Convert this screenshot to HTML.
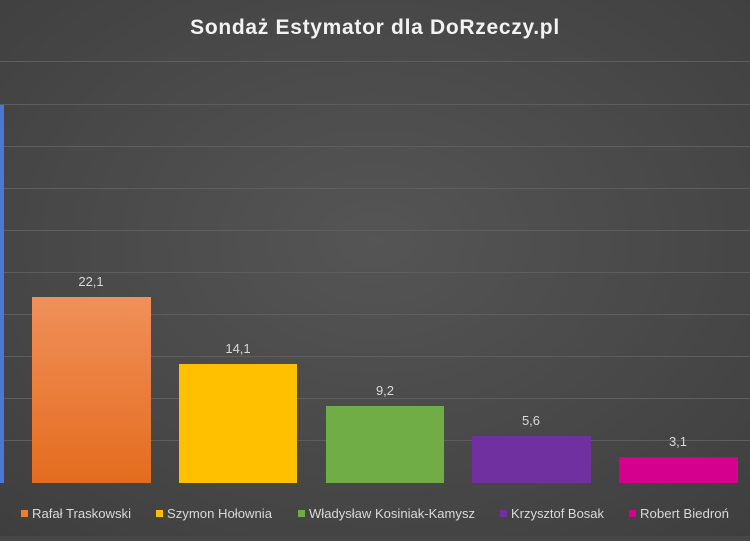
<!DOCTYPE html>
<html><head><meta charset="utf-8"><style>
body{margin:0;width:750px;height:536px;overflow:hidden;background:#474747;font-family:"Liberation Sans",sans-serif}
</style></head><body>
<svg width="750" height="536" xmlns="http://www.w3.org/2000/svg">
<defs>
<radialGradient id="bg" cx="0.5" cy="0.45" r="0.75">
<stop offset="0" stop-color="#555555"/><stop offset="1" stop-color="#3e3e3e"/>
</radialGradient>
<linearGradient id="og" x1="0" y1="0" x2="0" y2="1"><stop offset="0" stop-color="#f0905a"/><stop offset="1" stop-color="#e46c1e"/></linearGradient>
</defs>
<rect width="750" height="536" fill="url(#bg)"/>
<text x="375" y="34" text-anchor="middle" font-size="21" font-weight="bold" fill="#f2f2f2" letter-spacing="0.7">Sondaż Estymator dla DoRzeczy.pl</text>
<g stroke="#5e5e5e" stroke-width="1">
<line x1="0" x2="750" y1="61.5" y2="61.5"/><line x1="0" x2="750" y1="104.5" y2="104.5"/>
<line x1="0" x2="750" y1="146.5" y2="146.5"/><line x1="0" x2="750" y1="188.5" y2="188.5"/>
<line x1="0" x2="750" y1="230.5" y2="230.5"/><line x1="0" x2="750" y1="272.5" y2="272.5"/>
<line x1="0" x2="750" y1="314.5" y2="314.5"/><line x1="0" x2="750" y1="356.5" y2="356.5"/>
<line x1="0" x2="750" y1="398.5" y2="398.5"/><line x1="0" x2="750" y1="440.5" y2="440.5"/>
</g>
<rect x="0" y="105" width="4" height="378" fill="#4a78d4"/>
<rect x="32" y="297" width="119" height="186" fill="url(#og)"/>
<rect x="179" y="364" width="118" height="119" fill="#ffc000"/>
<rect x="326" y="406" width="118" height="77" fill="#70ad47"/>
<rect x="472" y="436" width="119" height="47" fill="#7030a0"/>
<rect x="619" y="457" width="119" height="26" fill="#d6008f"/>
<g font-size="13" fill="#d9d9d9" text-anchor="middle">
<text x="91" y="286">22,1</text><text x="238" y="353">14,1</text>
<text x="385" y="395">9,2</text><text x="531" y="425">5,6</text><text x="678" y="446">3,1</text>
</g>
<g font-size="12.5" fill="#d9d9d9">
<rect x="21" y="510" width="7" height="7" fill="#ed7d31"/><text x="32" y="518" textLength="99" lengthAdjust="spacingAndGlyphs">Rafał Traskowski</text>
<rect x="156" y="510" width="7" height="7" fill="#ffc000"/><text x="167" y="518" textLength="105" lengthAdjust="spacingAndGlyphs">Szymon Hołownia</text>
<rect x="298" y="510" width="7" height="7" fill="#70ad47"/><text x="309" y="518" textLength="166" lengthAdjust="spacingAndGlyphs">Władysław Kosiniak-Kamysz</text>
<rect x="500" y="510" width="7" height="7" fill="#7030a0"/><text x="511" y="518" textLength="93" lengthAdjust="spacingAndGlyphs">Krzysztof Bosak</text>
<rect x="629" y="510" width="7" height="7" fill="#d6008f"/><text x="640" y="518" textLength="89" lengthAdjust="spacingAndGlyphs">Robert Biedroń</text>
</g>
</svg>
</body></html>
